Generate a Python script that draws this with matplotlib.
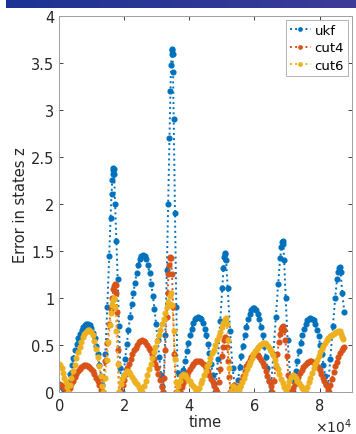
import numpy as np
import matplotlib
matplotlib.use("Agg")
import matplotlib.pyplot as plt
from matplotlib.ticker import FuncFormatter

# values, time in units of 1e4
ukf_t = [0.00, 0.04, 0.08, 0.12, 0.16, 0.20,
         0.24, 0.29, 0.34, 0.39, 0.44, 0.49, 0.54, 0.59, 0.64, 0.69, 0.74, 0.79, 0.84, 0.89,
         0.94, 0.99, 1.04, 1.09, 1.14, 1.19, 1.24, 1.29, 1.33, 1.36,
         1.42, 1.48, 1.54, 1.58, 1.61, 1.63, 1.645, 1.66, 1.67, 1.68, 1.69, 1.72, 1.76, 1.80, 1.84, 1.88,
         1.93, 1.98, 2.03, 2.08, 2.13, 2.18, 2.23, 2.28, 2.33, 2.38, 2.43, 2.48, 2.53, 2.58, 2.63,
         2.68, 2.73, 2.78, 2.83, 2.88, 2.93, 2.98, 3.03, 3.08, 3.13, 3.17, 3.20,
         3.26, 3.31, 3.35, 3.39, 3.42, 3.44, 3.455, 3.465, 3.475, 3.485, 3.50, 3.52, 3.56, 3.60, 3.64, 3.68,
         3.72, 3.77, 3.82, 3.87, 3.92, 3.97, 4.02, 4.07, 4.12, 4.17, 4.22, 4.27, 4.32, 4.37,
         4.42, 4.47, 4.52, 4.57, 4.62, 4.67, 4.72, 4.76, 4.80,
         4.88, 4.95, 5.01, 5.05, 5.08, 5.095, 5.11, 5.13, 5.18, 5.25, 5.33, 5.40,
         5.45, 5.50, 5.55, 5.60, 5.65, 5.70, 5.75, 5.80, 5.85, 5.90, 5.95, 6.00, 6.05, 6.10,
         6.15, 6.20, 6.25, 6.30, 6.35, 6.40, 6.45, 6.50,
         6.58, 6.66, 6.73, 6.79, 6.83, 6.86, 6.875, 6.89, 6.91, 6.96, 7.02, 7.10,
         7.17, 7.22, 7.27, 7.32, 7.37, 7.42, 7.47, 7.52, 7.57, 7.62, 7.67, 7.72, 7.77, 7.82,
         7.87, 7.92, 7.97, 8.02, 8.07, 8.12, 8.17, 8.21, 8.25,
         8.33, 8.41, 8.48, 8.54, 8.58, 8.60, 8.62, 8.645, 8.70, 8.76]
ukf_e = [0.08, 0.07, 0.05, 0.04, 0.02, 0.01,
         0.00, 0.10, 0.19, 0.28, 0.36, 0.44, 0.51, 0.57, 0.62, 0.66, 0.69, 0.71, 0.72, 0.72,
         0.71, 0.68, 0.63, 0.57, 0.49, 0.40, 0.29, 0.17, 0.07, 0.00,
         0.40, 0.90, 1.45, 1.85, 2.10, 2.25, 2.32, 2.36, 2.38, 2.37, 2.32, 2.00, 1.60, 1.20, 0.70, 0.25,
         0.00, 0.18, 0.35, 0.51, 0.66, 0.80, 0.93, 1.05, 1.16, 1.26, 1.35, 1.41, 1.45, 1.46, 1.45,
         1.41, 1.35, 1.26, 1.15, 1.02, 0.88, 0.72, 0.55, 0.37, 0.18, 0.06, 0.00,
         0.60, 1.30, 2.00, 2.70, 3.20, 3.48, 3.60, 3.64, 3.65, 3.60, 3.40, 2.90, 1.90, 0.90, 0.20, 0.02,
         0.00, 0.12, 0.23, 0.33, 0.43, 0.52, 0.60, 0.67, 0.73, 0.77, 0.79, 0.80, 0.79, 0.77,
         0.73, 0.67, 0.60, 0.51, 0.41, 0.30, 0.18, 0.08, 0.00,
         0.35, 0.75, 1.10, 1.32, 1.43, 1.47, 1.48, 1.40, 1.10, 0.65, 0.25, 0.05,
         0.00, 0.13, 0.26, 0.38, 0.49, 0.60, 0.69, 0.77, 0.83, 0.87, 0.89, 0.89, 0.87, 0.83,
         0.77, 0.69, 0.60, 0.49, 0.37, 0.25, 0.12, 0.00,
         0.40, 0.80, 1.15, 1.42, 1.54, 1.59, 1.60, 1.57, 1.40, 1.00, 0.55, 0.15,
         0.00, 0.11, 0.22, 0.33, 0.43, 0.52, 0.60, 0.67, 0.72, 0.76, 0.78, 0.79, 0.78, 0.76,
         0.72, 0.66, 0.59, 0.50, 0.40, 0.29, 0.17, 0.08, 0.00,
         0.35, 0.70, 1.00, 1.20, 1.28, 1.32, 1.33, 1.28, 1.05, 0.85]

cut4_t = [0.00, 0.05, 0.10, 0.15, 0.20, 0.24,
          0.28, 0.33, 0.38, 0.43, 0.48, 0.53, 0.58, 0.63, 0.68, 0.73, 0.78, 0.83, 0.88, 0.93,
          0.98, 1.03, 1.08, 1.13, 1.18, 1.23, 1.28, 1.31,
          1.36, 1.42, 1.48, 1.54, 1.59, 1.63, 1.67, 1.70, 1.72, 1.74, 1.76, 1.78, 1.81, 1.84,
          1.90, 1.95, 2.00, 2.05, 2.10, 2.15, 2.20, 2.25, 2.30, 2.35, 2.40, 2.45, 2.50, 2.55,
          2.60, 2.65, 2.70, 2.75, 2.80, 2.85, 2.90, 2.95, 3.00, 3.05, 3.10, 3.15, 3.18,
          3.22, 3.26, 3.30, 3.33, 3.36, 3.38, 3.40, 3.42, 3.44, 3.47, 3.50, 3.54, 3.58,
          3.72, 3.77, 3.82, 3.87, 3.92, 3.97, 4.02, 4.07, 4.12, 4.17, 4.22, 4.27, 4.32, 4.37,
          4.42, 4.47, 4.52, 4.57, 4.62, 4.67, 4.72, 4.77, 4.82, 4.86,
          4.90, 4.95, 5.00, 5.04, 5.08, 5.11, 5.14, 5.17, 5.20, 5.23, 5.26, 5.31, 5.36, 5.41, 5.45,
          5.50, 5.55, 5.60, 5.65, 5.70, 5.75, 5.80, 5.85, 5.90, 5.95, 6.00, 6.05, 6.10, 6.15,
          6.20, 6.25, 6.30, 6.35, 6.40, 6.45, 6.50, 6.55,
          6.60, 6.65, 6.70, 6.75, 6.79, 6.83, 6.86, 6.89, 6.92, 6.95, 6.99, 7.04, 7.10,
          7.15, 7.20, 7.25, 7.30, 7.35, 7.40, 7.45, 7.50, 7.55, 7.60, 7.65, 7.70, 7.75, 7.80,
          7.85, 7.90, 7.95, 8.00, 8.05, 8.10, 8.15, 8.20, 8.25, 8.28,
          8.33, 8.38, 8.43, 8.48, 8.53, 8.58, 8.63, 8.68, 8.72, 8.75]
cut4_e = [0.08, 0.07, 0.06, 0.04, 0.03, 0.01,
          0.00, 0.04, 0.08, 0.12, 0.16, 0.19, 0.22, 0.24, 0.26, 0.27, 0.28, 0.28, 0.27, 0.26,
          0.24, 0.22, 0.19, 0.15, 0.11, 0.07, 0.02, 0.00,
          0.15, 0.33, 0.52, 0.72, 0.88, 1.00, 1.09, 1.13, 1.15, 1.14, 1.05, 0.85, 0.45, 0.00,
          0.00, 0.07, 0.13, 0.19, 0.25, 0.30, 0.35, 0.40, 0.44, 0.47, 0.50, 0.53, 0.54, 0.55,
          0.54, 0.53, 0.50, 0.47, 0.44, 0.40, 0.35, 0.30, 0.25, 0.19, 0.13, 0.05, 0.00,
          0.15, 0.45, 0.80, 1.05, 1.25, 1.35, 1.42, 1.44, 1.42, 1.25, 0.90, 0.40, 0.00,
          0.00, 0.05, 0.09, 0.13, 0.17, 0.21, 0.24, 0.27, 0.30, 0.32, 0.33, 0.33, 0.33, 0.32,
          0.30, 0.28, 0.25, 0.22, 0.18, 0.14, 0.10, 0.06, 0.02, 0.00,
          0.10, 0.24, 0.38, 0.48, 0.55, 0.58, 0.57, 0.48, 0.33, 0.16, 0.00, 0.05, 0.07, 0.03, 0.00,
          0.00, 0.06, 0.12, 0.17, 0.22, 0.27, 0.31, 0.34, 0.37, 0.39, 0.40, 0.40, 0.39, 0.37,
          0.34, 0.31, 0.27, 0.22, 0.17, 0.12, 0.06, 0.00,
          0.12, 0.26, 0.40, 0.53, 0.61, 0.67, 0.69, 0.70, 0.66, 0.55, 0.38, 0.18, 0.00,
          0.00, 0.04, 0.08, 0.12, 0.16, 0.20, 0.23, 0.26, 0.29, 0.31, 0.32, 0.33, 0.33, 0.32,
          0.31, 0.29, 0.26, 0.23, 0.19, 0.15, 0.11, 0.07, 0.03, 0.00,
          0.07, 0.14, 0.21, 0.27, 0.32, 0.37, 0.41, 0.45, 0.47, 0.48]

cut6_t = [0.00, 0.04, 0.08, 0.12, 0.16, 0.20, 0.24,
          0.28, 0.33, 0.38, 0.43, 0.48, 0.53, 0.58, 0.63, 0.68, 0.73, 0.78, 0.83, 0.88, 0.93,
          0.98, 1.03, 1.08, 1.13, 1.18, 1.23, 1.28, 1.33, 1.36,
          1.41, 1.46, 1.51, 1.56, 1.60, 1.63, 1.66, 1.68, 1.70, 1.73, 1.76, 1.80, 1.84,
          1.89, 1.94, 1.99, 2.04, 2.09, 2.14, 2.19, 2.24, 2.29, 2.34, 2.39, 2.44, 2.49, 2.53, 2.56,
          2.61, 2.66, 2.71, 2.76, 2.81, 2.86, 2.91, 2.96, 3.01, 3.06, 3.11, 3.16, 3.21, 3.26,
          3.31, 3.36, 3.41, 3.44, 3.48, 3.52, 3.56, 3.60, 3.62,
          3.66, 3.71, 3.76, 3.81, 3.86, 3.91, 3.96, 4.01, 4.06, 4.11, 4.16, 4.21, 4.25,
          4.30, 4.35, 4.40, 4.45, 4.50, 4.55, 4.60, 4.65, 4.70, 4.75, 4.80, 4.85, 4.90, 4.95,
          5.00, 5.05, 5.10, 5.12, 5.15, 5.19, 5.23, 5.27,
          5.33, 5.40, 5.47, 5.52,
          5.57, 5.62, 5.67, 5.72, 5.77, 5.82, 5.87, 5.92, 5.97, 6.02, 6.07, 6.12, 6.17, 6.22,
          6.27, 6.32, 6.37, 6.42, 6.47, 6.52, 6.57, 6.62, 6.67, 6.72, 6.77, 6.82, 6.87, 6.92, 6.97,
          7.02, 7.07, 7.12, 7.17, 7.22, 7.27, 7.32, 7.37, 7.42, 7.47, 7.52, 7.57,
          7.62, 7.67, 7.72, 7.77, 7.82, 7.87, 7.92, 7.97, 8.02, 8.07, 8.12, 8.17, 8.22, 8.27,
          8.32, 8.37, 8.42, 8.47, 8.52, 8.57, 8.62, 8.66, 8.70, 8.72]
cut6_e = [0.30, 0.28, 0.25, 0.20, 0.15, 0.10, 0.05,
          0.00, 0.07, 0.15, 0.22, 0.29, 0.36, 0.42, 0.48, 0.53, 0.58, 0.62, 0.64, 0.66, 0.66,
          0.64, 0.60, 0.54, 0.46, 0.37, 0.27, 0.17, 0.06, 0.00,
          0.15, 0.34, 0.53, 0.71, 0.84, 0.92, 0.98, 1.00, 0.99, 0.90, 0.65, 0.30, 0.00,
          0.08, 0.14, 0.18, 0.21, 0.22, 0.21, 0.19, 0.16, 0.13, 0.10, 0.08, 0.05, 0.03, 0.01, 0.00,
          0.06, 0.12, 0.18, 0.24, 0.30, 0.36, 0.42, 0.48, 0.54, 0.60, 0.66, 0.72, 0.78, 0.84,
          0.90, 0.96, 1.02, 1.05, 0.92, 0.65, 0.35, 0.10, 0.00,
          0.06, 0.12, 0.17, 0.19, 0.18, 0.16, 0.13, 0.11, 0.08, 0.06, 0.04, 0.01, 0.00,
          0.04, 0.09, 0.13, 0.18, 0.22, 0.27, 0.31, 0.36, 0.41, 0.45, 0.50, 0.55, 0.59, 0.64,
          0.69, 0.73, 0.78, 0.79, 0.72, 0.55, 0.25, 0.00,
          0.06, 0.00, 0.04, 0.02,
          0.06, 0.10, 0.15, 0.19, 0.24, 0.28, 0.32, 0.36, 0.40, 0.43, 0.46, 0.48, 0.50, 0.51,
          0.52, 0.52, 0.51, 0.49, 0.46, 0.43, 0.39, 0.34, 0.29, 0.24, 0.19, 0.14, 0.09, 0.05, 0.01,
          0.06, 0.11, 0.16, 0.18, 0.17, 0.15, 0.12, 0.09, 0.06, 0.04, 0.02, 0.00,
          0.05, 0.10, 0.15, 0.20, 0.25, 0.30, 0.34, 0.38, 0.42, 0.46, 0.49, 0.52, 0.55, 0.57,
          0.59, 0.60, 0.62, 0.63, 0.64, 0.65, 0.65, 0.62, 0.58, 0.56]

names = ["ukf", "cut4", "cut6"]
colors = ["#0072BD", "#D95319", "#EDB120"]

fig = plt.figure(figsize=(3.56, 4.35), dpi=100)

# slide header strip at the top
band = fig.add_axes([0.017, 0.979, 0.983, 0.021])
band.imshow(np.linspace(0, 1, 100).reshape(1, -1), aspect="auto",
            cmap=matplotlib.colors.LinearSegmentedColormap.from_list("hb", ["#1b3393", "#3d3b98"]))
band.axis("off")

ax = fig.add_axes([0.166, 0.097, 0.823, 0.864])
series = [(ukf_t, ukf_e), (cut4_t, cut4_e), (cut6_t, cut6_e)]
for (t, e), name, c in zip(series, names, colors):
    ax.plot(np.array(t) * 1e4, e, linestyle=":", linewidth=1.4, marker="o",
            markersize=3.4, color=c, label=name)

ax.set_xlim(0, 9e4)
ax.set_ylim(0, 4)
ax.set_xticks([0, 2e4, 4e4, 6e4, 8e4])
ax.set_yticks(np.arange(0, 4.01, 0.5))
ax.yaxis.set_major_formatter(FuncFormatter(lambda v, p: "%g" % v))
ax.ticklabel_format(axis="x", style="sci", scilimits=(0, 0), useMathText=True)
ax.tick_params(direction="in", top=True, right=True, labelsize=10.5,
               colors="#262626", length=3, width=0.6)
for s in ax.spines.values():
    s.set_color("#a0a0a0")
    s.set_linewidth(0.7)
ax.xaxis.get_offset_text().set_fontsize(10)
ax.xaxis.get_offset_text().set_color("#262626")
ax.set_xlabel("time", fontsize=10.5, color="#262626", labelpad=1)
ax.set_ylabel("Error in states z", fontsize=10.5, color="#262626", labelpad=2)

leg = ax.legend(loc="upper right", fontsize=9.5, handlelength=1.6, handletextpad=0.3,
                borderpad=0.3, labelspacing=0.35, borderaxespad=0.3, fancybox=False,
                markerscale=0.7)
leg.get_frame().set_edgecolor("#a0a0a0")
leg.get_frame().set_linewidth(0.7)

fig.savefig("out.png", dpi=100)
